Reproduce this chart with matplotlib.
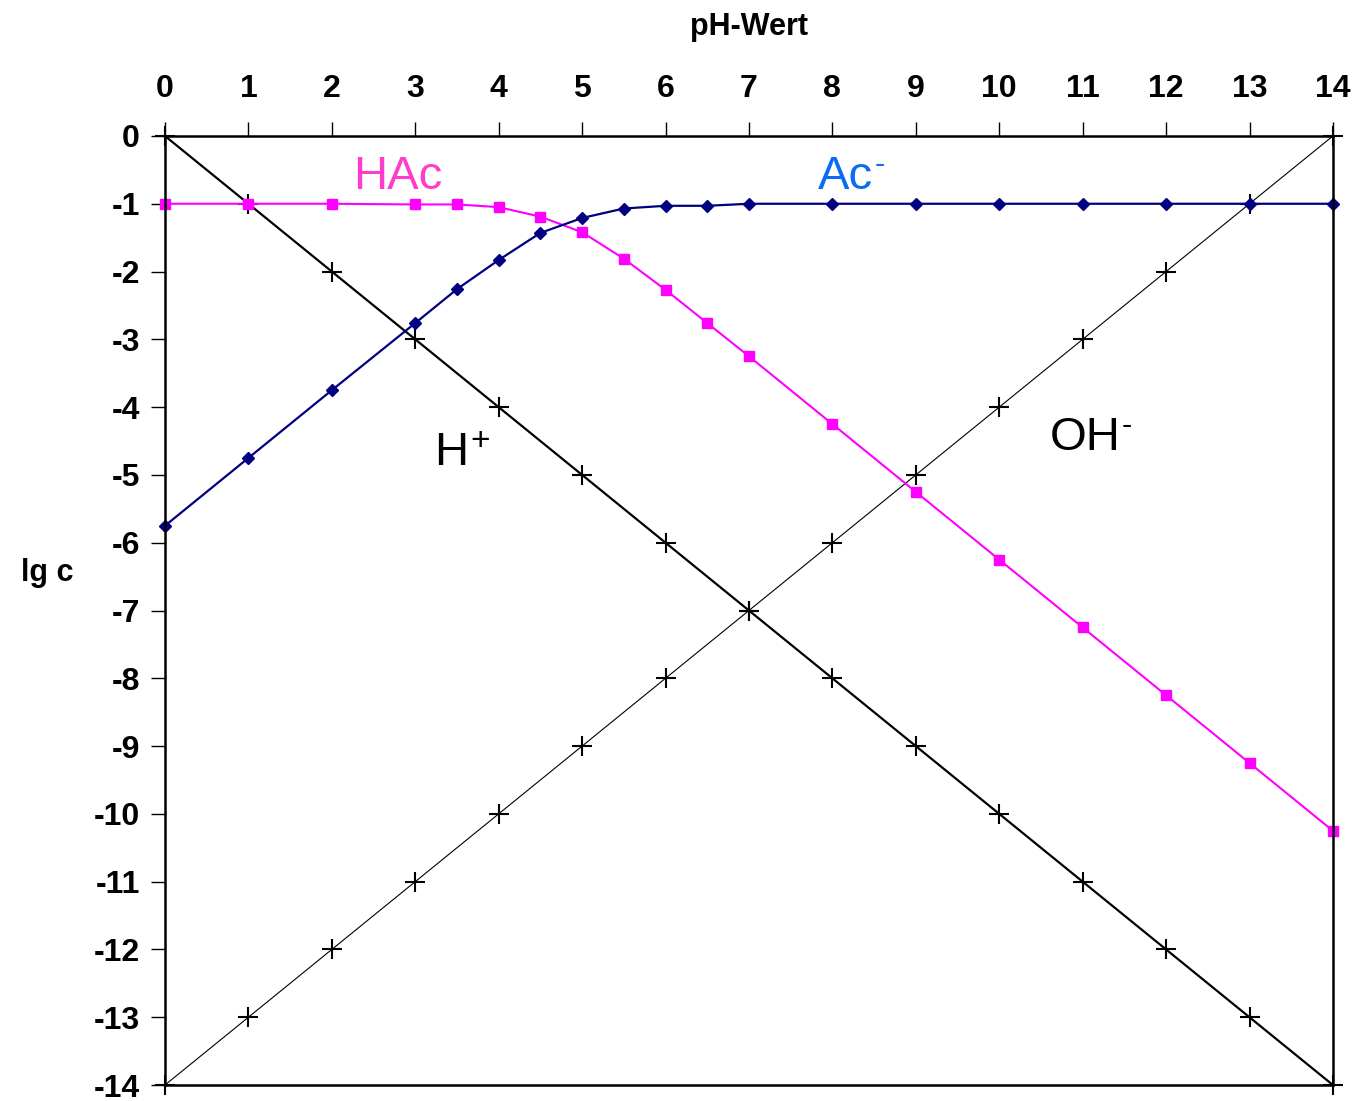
import matplotlib.pyplot as plt

plt.rcParams["font.family"] = ["Liberation Sans", "DejaVu Sans"]
plt.rcParams["axes.unicode_minus"] = False

# pH values and lg c of the acetic acid system (c0 = 0.1 mol/l, pKa 4.75)
ph_acid = [0, 1, 2, 3, 3.5, 4, 4.5, 5, 5.5, 6, 6.5, 7, 8, 9, 10, 11, 12, 13, 14]
lg_hac = [-1.0, -1.0, -1.0, -1.01, -1.01, -1.05, -1.19, -1.42, -1.81, -2.27, -2.76,
          -3.25, -4.25, -5.25, -6.25, -7.25, -8.25, -9.25, -10.25]
lg_ac = [-5.75, -4.75, -3.75, -2.76, -2.26, -1.83, -1.43, -1.21, -1.07, -1.03, -1.03,
         -1.0, -1.0, -1.0, -1.0, -1.0, -1.0, -1.0, -1.0]

ph_water = [0, 1, 2, 3, 4, 5, 6, 7, 8, 9, 10, 11, 12, 13, 14]
lg_h = [0, -1, -2, -3, -4, -5, -6, -7, -8, -9, -10, -11, -12, -13, -14]
lg_oh = [-14, -13, -12, -11, -10, -9, -8, -7, -6, -5, -4, -3, -2, -1, 0]

fig = plt.figure(figsize=(13.6, 11.01), dpi=100)
ax = fig.add_axes([0.1213, 0.0145, 0.8588, 0.862])

ax.plot(ph_water, lg_oh, color="black", lw=0.8, marker="+", ms=14, mew=1.5, clip_on=False)
ax.plot(ph_water, lg_h, color="black", lw=1.6, marker="+", ms=14, mew=1.5, clip_on=False)
ax.plot(ph_acid, lg_hac, color="#ff00ff", lw=1.5, marker="s", ms=7, clip_on=False)
ax.plot(ph_acid, lg_ac, color="#000080", lw=1.6, marker="D", ms=6.5, clip_on=False)


def species_label(x, y, base, sup, color, sup_size):
    t = ax.text(x, y, base, color=color, fontsize=34, ha="left", va="center")
    ax.annotate(sup, xy=(1, 1), xycoords=t, xytext=(1, 3), textcoords="offset points",
                color=color, fontsize=sup_size, ha="left", va="top")


ax.text(2.25, -0.6, "HAc", color="#ff3ccc", fontsize=34, ha="left", va="center")
species_label(7.83, -0.6, "Ac", "-", "#0a6cf5", 22)
species_label(3.23, -4.67, "H", "+", "black", 24)
species_label(10.6, -4.45, "OH", "-", "black", 22)

ax.set_xlim(0, 14)
ax.set_ylim(-14, 0)
ax.set_xticks(range(0, 15))
ax.set_yticks(range(-14, 1))
ax.xaxis.tick_top()
ax.xaxis.set_label_position("top")
ax.tick_params(axis="both", direction="out", length=10, width=1, labelsize=23)
ax.tick_params(axis="x", pad=13)
ax.tick_params(axis="y", pad=8)
for lab in ax.get_xticklabels() + ax.get_yticklabels():
    lab.set_fontweight("bold")
for sp in ax.spines.values():
    sp.set_linewidth(1.8)

ax.set_xlabel("pH-Wert", fontsize=22, fontweight="bold", labelpad=28)
ax.set_ylabel("lg c", fontsize=22, fontweight="bold", rotation=0, ha="center", va="center")
ax.yaxis.set_label_coords(-0.101, 0.5395)

fig.savefig("out.png", dpi=100)
